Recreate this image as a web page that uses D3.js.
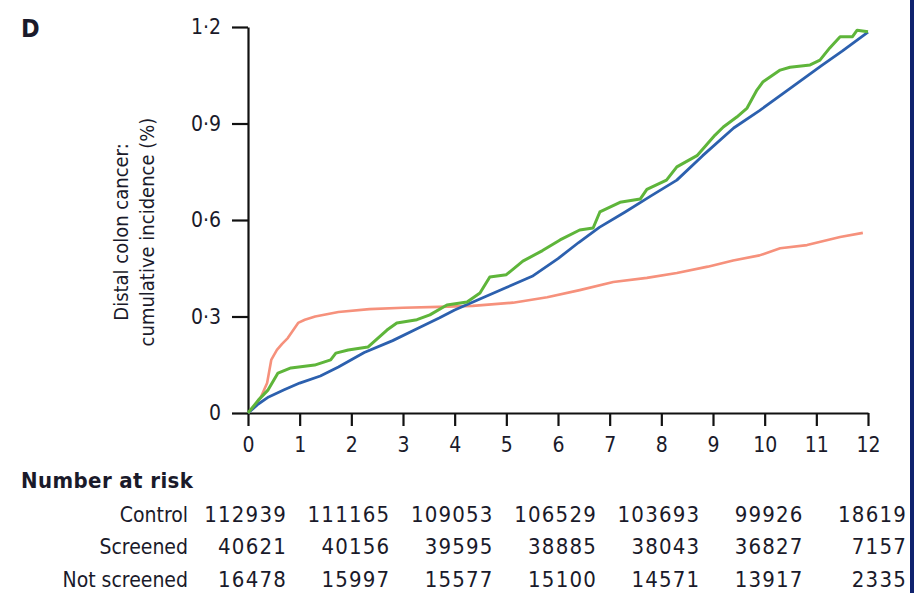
<!DOCTYPE html>
<html>
<head>
<meta charset="utf-8">
<script src="https://cdn.jsdelivr.net/npm/d3@7"></script>
<style>
  body { margin: 0; background: #fff; }
  svg text { font-family: "Liberation Sans Narrow", "DejaVu Sans Condensed", "Open Sans", sans-serif; fill: #1a1a2a; }
</style>
</head>
<body>
<svg id="chart" width="914" height="593"></svg>
<script>
// cumulative incidence (%), [year, value]
const controlData = [[0,0],[0.2,0.028],[0.4,0.05],[0.7,0.072],[1,0.093],[1.4,0.115],[1.75,0.143],[2.25,0.188],[2.8,0.225],[3.3,0.264],[3.7,0.295],[4,0.32],[4.5,0.355],[5,0.39],[5.5,0.425],[6,0.48],[6.4,0.53],[6.8,0.577],[7.3,0.625],[7.8,0.675],[8.3,0.724],[8.8,0.8],[9.4,0.886],[9.9,0.94],[10.5,1.01],[11.1,1.08],[11.5,1.125],[12,1.184]];
const screenedData = [[0,0],[0.2,0.04],[0.39,0.072],[0.58,0.124],[0.83,0.14],[1.29,0.149],[1.6,0.165],[1.7,0.186],[1.94,0.196],[2.32,0.205],[2.69,0.258],[2.88,0.28],[3.27,0.29],[3.52,0.305],[3.85,0.336],[4.24,0.345],[4.49,0.373],[4.68,0.423],[5.0,0.43],[5.32,0.472],[5.7,0.505],[6.04,0.538],[6.42,0.569],[6.68,0.575],[6.81,0.625],[7.2,0.655],[7.59,0.665],[7.72,0.695],[8.1,0.724],[8.3,0.765],[8.69,0.8],[9.04,0.864],[9.2,0.889],[9.46,0.92],[9.66,0.948],[9.85,1.004],[9.97,1.03],[10.3,1.066],[10.49,1.075],[10.88,1.082],[11.07,1.097],[11.26,1.135],[11.46,1.17],[11.7,1.17],[11.79,1.19],[12,1.185]];
const notScreenedData = [[0,0],[0.12,0.02],[0.25,0.05],[0.37,0.093],[0.45,0.165],[0.56,0.196],[0.66,0.215],[0.77,0.233],[0.97,0.28],[1.1,0.29],[1.3,0.3],[1.75,0.314],[2.35,0.323],[3,0.327],[3.7,0.33],[4.35,0.333],[5.13,0.343],[5.79,0.36],[6.42,0.382],[7.07,0.407],[7.72,0.42],[8.3,0.435],[8.9,0.455],[9.39,0.474],[9.9,0.49],[10.3,0.512],[10.82,0.522],[11.46,0.547],[11.9,0.56]];

const xTicks = [0,1,2,3,4,5,6,7,8,9,10,11,12];
const yTicks = [0,0.3,0.6,0.9,1.2];

// number at risk table
const riskYears = [0,2,4,6,8,10,12];
const riskGroups = ["Control", "Screened", "Not screened"];
const riskControl = [112939,111165,109053,106529,103693,99926,18619];
const riskScreened = [40621,40156,39595,38885,38043,36827,7157];
const riskNotScreened = [16478,15997,15577,15100,14571,13917,2335];

const svg = d3.select("#chart");

var x = d3.scaleLinear().domain([0, 12]).range([248, 868]);
var y = d3.scaleLinear().domain([0, 1.2]).range([413, 27]);

// panel letter
svg.append("text")
    .attr("x", 21).attr("y", 37)
    .style("font-size", "25px").style("font-weight", "bold")
    .text("D");

// y axis
svg.append("g")
    .attr("transform", "translate(" + x(0) + ",0)")
    .call(d3.axisLeft(y).tickValues(yTicks).tickSize(16).tickSizeOuter(0).tickPadding(11)
        .tickFormat(function(d) { return d === 0 ? "0" : d3.format(".1f")(d).replace(".", "\u00b7"); }));

// x axis
svg.append("g")
    .attr("transform", "translate(0," + y(0) + ")")
    .call(d3.axisBottom(x).tickValues(xTicks).tickSize(13).tickSizeOuter(0).tickPadding(11));

svg.selectAll(".domain, .tick line").attr("stroke", "#111").attr("stroke-width", 2.2);
svg.selectAll(".tick text").style("font-size", "21px").attr("fill", "#1a1a2a");

// y label, two lines
var yLabel = svg.append("text")
    .attr("transform", "translate(128,232) rotate(-90)")
    .attr("text-anchor", "middle")
    .style("font-size", "20px");
yLabel.append("tspan").attr("x", 0).attr("dy", 0).text("Distal colon cancer:");
yLabel.append("tspan").attr("x", 0).attr("dy", 26).text("cumulative incidence (%)");

// curves
var line = d3.line()
    .x(function(d) { return x(d[0]); })
    .y(function(d) { return y(d[1]); });

var series = [
    { data: notScreenedData, colour: "#f6917c", width: 2.6 },
    { data: controlData, colour: "#2c60ae", width: 2.8 },
    { data: screenedData, colour: "#5eb53a", width: 3 }
];

svg.selectAll(".curve")
    .data(series)
    .enter().append("path")
    .attr("class", "curve")
    .attr("d", function(d) { return line(d.data); })
    .attr("fill", "none")
    .attr("stroke", function(d) { return d.colour; })
    .attr("stroke-width", function(d) { return d.width; })
    .attr("stroke-linejoin", "round");

// number at risk
svg.append("text")
    .attr("x", 21).attr("y", 488)
    .style("font-size", "22px").style("font-weight", "bold")
    .style("letter-spacing", "0.4px")
    .text("Number at risk");

var riskRows = [riskControl, riskScreened, riskNotScreened];
var rowY = [522, 554, 587];

riskGroups.forEach(function(name, i) {
    svg.append("text")
        .attr("x", 188).attr("y", rowY[i])
        .attr("text-anchor", "end")
        .style("font-size", "21px")
        .text(name);

    svg.selectAll(".risk-" + i)
        .data(riskRows[i])
        .enter().append("text")
        .attr("class", "risk-" + i)
        .attr("x", function(d, j) { return x(riskYears[j]) + 39; })
        .attr("y", rowY[i])
        .attr("text-anchor", "end")
        .style("font-size", "22px")
        .style("letter-spacing", "1.2px")
        .text(function(d) { return d; });
});

// border strip on the right edge
svg.append("rect")
    .attr("x", 910).attr("y", 0)
    .attr("width", 4).attr("height", 593)
    .attr("fill", "#10226e");
</script>
</body>
</html>
